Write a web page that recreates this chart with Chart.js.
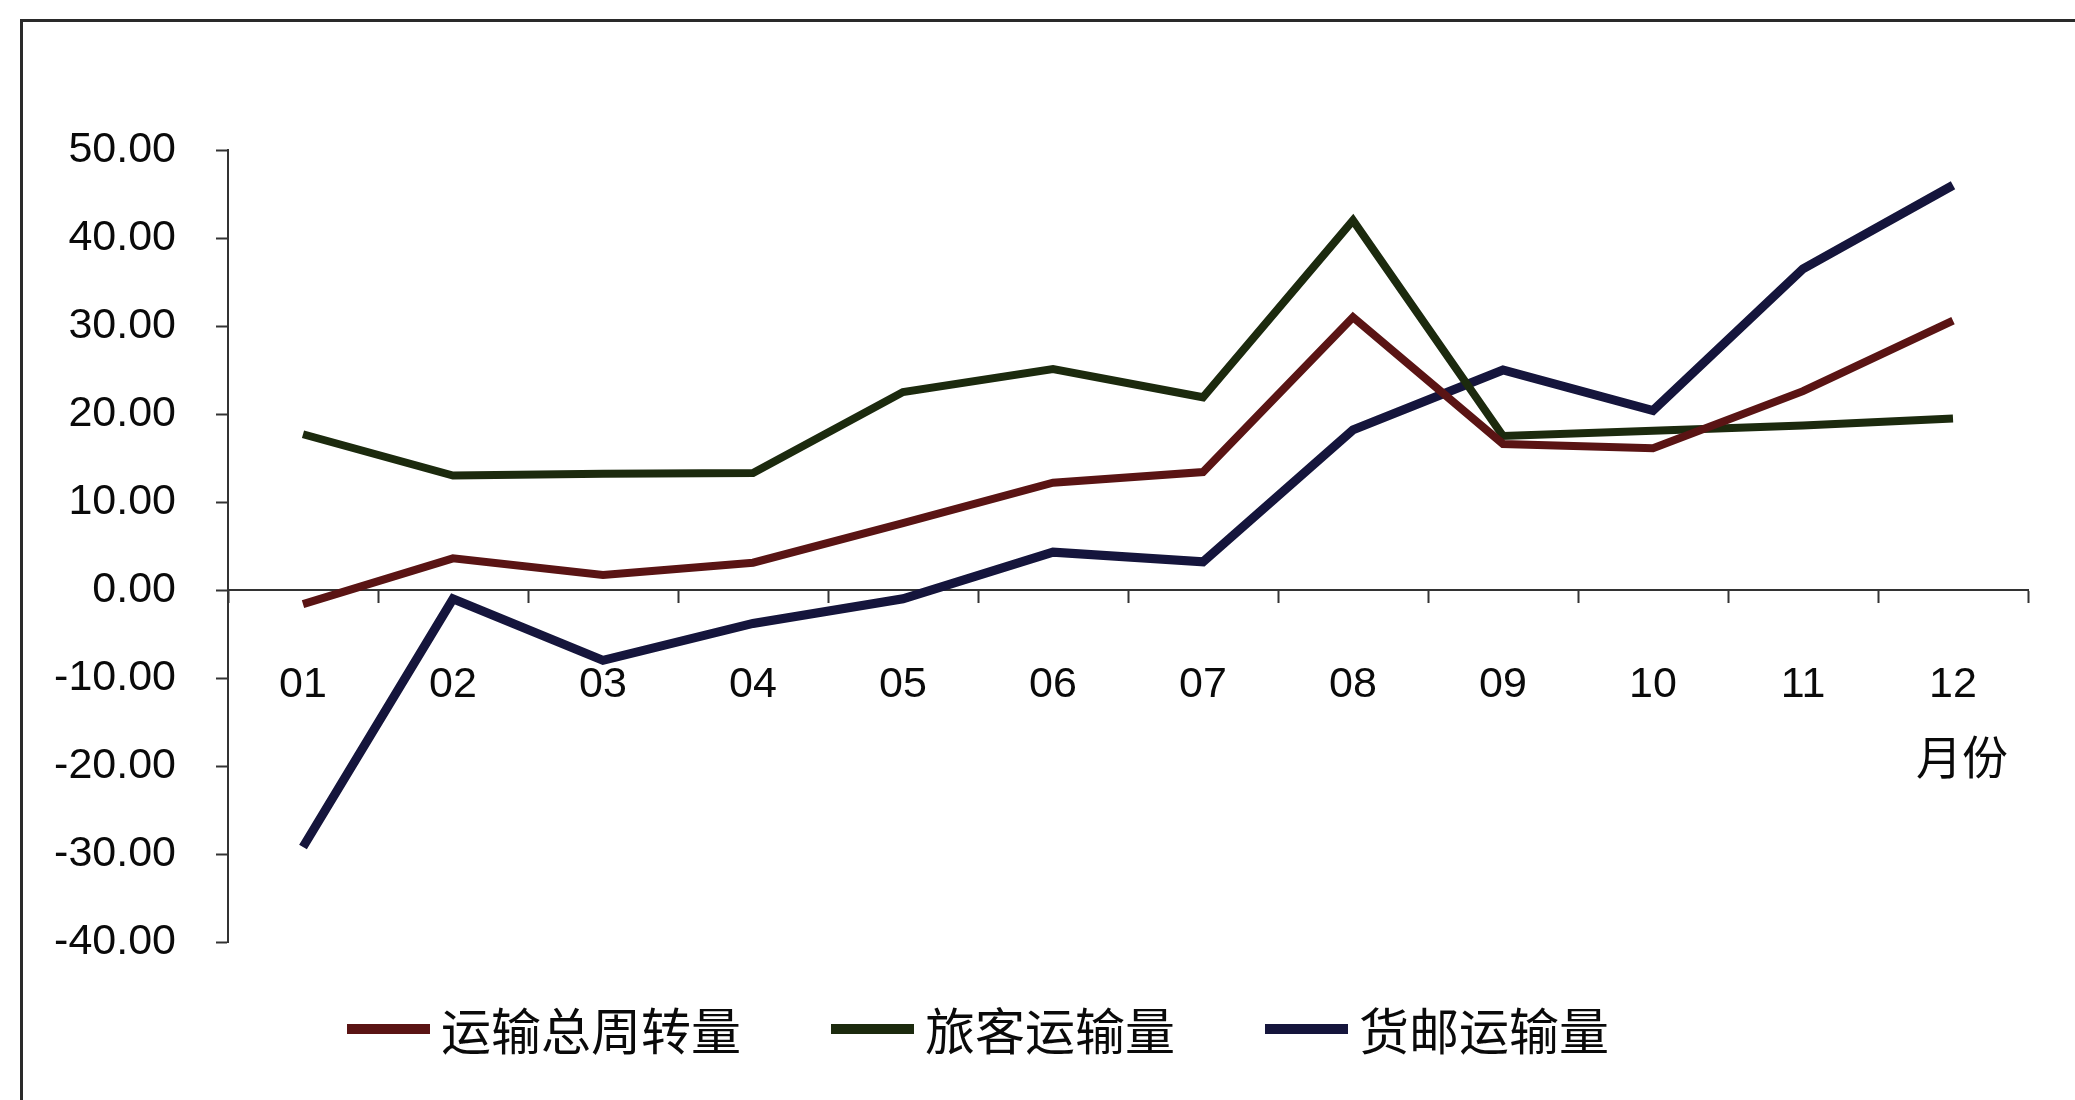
<!DOCTYPE html>
<html>
<head>
<meta charset="utf-8">
<script src="https://cdn.jsdelivr.net/npm/chart.js@4.4.1/dist/chart.umd.min.js"></script>
<style>
  html, body { margin: 0; padding: 0; background: #fff; }
  #wrap { position: relative; width: 2075px; height: 1100px; overflow: hidden; }
  #frame { position: absolute; left: 20px; top: 19px; right: -10px; bottom: -10px;
           border-left: 3px solid #2a2a2a; border-top: 3px solid #2a2a2a; }
  canvas { position: absolute; left: 0; top: 0; }
</style>
</head>
<body>
<div id="wrap">
  <div id="frame"></div>
  <canvas id="chart" width="2075" height="1100"></canvas>
</div>
<script>
// 月份 (x categories)
const months = ['01', '02', '03', '04', '05', '06', '07', '08', '09', '10', '11', '12'];

// series values
const totalTurnover = [-1.6, 3.6, 1.7, 3.1, 7.6, 12.2, 13.4, 31.0, 16.6, 16.1, 22.6, 30.6];
const passengers    = [17.7, 13.0, 13.2, 13.3, 22.5, 25.1, 21.9, 42.0, 17.5, 18.1, 18.7, 19.5];
const cargoMail     = [-29.2, -1.0, -8.0, -3.8, -1.0, 4.3, 3.2, 18.2, 25.0, 20.4, 36.5, 46.0];

const seriesNames = ['运输总周转量', '旅客运输量', '货邮运输量'];
const seriesColors = ['#5a1414', '#1c2a0e', '#15153c'];
const seriesWidths = [8, 8, 9];
const unitLabel = '月份';

const yMin = -40, yMax = 50, yStep = 10;

const TXT = '#0a0a0a';
const NUM_FONT = { family: '"Liberation Sans", Arial, sans-serif', size: 43 };

// legend + unit label drawn on the canvas (legend laid out like the original)
const extras = {
  id: 'extras',
  afterDraw(chart) {
    const ctx = chart.ctx;
    ctx.save();
    ctx.font = '50px "Noto Sans CJK SC"';
    ctx.textBaseline = 'middle';
    ctx.textAlign = 'left';
    ctx.fillStyle = TXT;
    let x = 347;
    const y = 1029;
    chart.data.datasets.forEach(ds => {
      ctx.strokeStyle = ds.borderColor;
      ctx.lineWidth = 10;
      ctx.beginPath();
      ctx.moveTo(x, y);
      ctx.lineTo(x + 83, y);
      ctx.stroke();
      ctx.fillText(ds.label, x + 94, y + 2);
      x += 94 + ctx.measureText(ds.label).width + 90;
    });
    ctx.font = '46px "Noto Sans CJK SC"';
    ctx.textAlign = 'center';
    ctx.fillText(unitLabel, 1962, 757);
    ctx.restore();
  }
};

const series = [totalTurnover, passengers, cargoMail];

new Chart(document.getElementById('chart'), {
  type: 'line',
  data: {
    labels: months,
    datasets: series.map((vals, i) => ({
      label: seriesNames[i],
      data: vals,
      borderColor: seriesColors[i],
      backgroundColor: seriesColors[i],
      borderWidth: seriesWidths[i],
      tension: 0,
      pointRadius: 0,
      borderJoinStyle: 'miter',
      fill: false,
    }))
  },
  options: {
    responsive: false,
    devicePixelRatio: 1,
    animation: false,
    layout: { padding: { top: 150, right: 47, bottom: 158, left: 0 } },
    plugins: {
      legend: { display: false },
      tooltip: { enabled: false },
    },
    scales: {
      x: {
        position: { y: 0 },
        offset: true,
        grid: { drawOnChartArea: false, offset: true, tickLength: 12, color: '#333', tickWidth: 2 },
        border: { display: true, color: '#333', width: 2 },
        ticks: { font: NUM_FONT, color: TXT, padding: 57, maxRotation: 0, autoSkip: false },
      },
      y: {
        min: yMin,
        max: yMax,
        afterFit: s => { s.width = 228; },
        grid: { drawOnChartArea: false, tickLength: 12, color: '#333', tickWidth: 2 },
        border: { display: true, color: '#333', width: 2 },
        ticks: {
          stepSize: yStep,
          font: NUM_FONT,
          color: TXT,
          padding: 40,
          callback: v => v.toFixed(2),
        },
      },
    },
  },
  plugins: [extras],
});
</script>
</body>
</html>
